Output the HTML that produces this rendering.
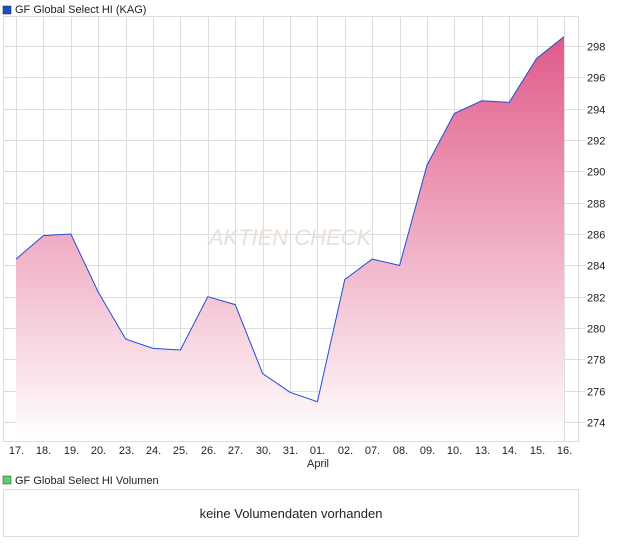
<!DOCTYPE html>
<html><head><meta charset="utf-8"><style>
body{margin:0;background:#fff;font-family:"Liberation Sans",sans-serif;}
svg text{font-family:"Liberation Sans",sans-serif;}
</style></head><body>
<svg id="c" width="620" height="546" xmlns="http://www.w3.org/2000/svg">
<defs><linearGradient id="g" x1="0" y1="0" x2="0" y2="1">
<stop offset="0" stop-color="#e05a8a"/><stop offset="1" stop-color="#ffffff"/></linearGradient></defs>
<rect x="3" y="6" width="8" height="8" fill="#1f4fbf" stroke="#123" stroke-width="0.5"/>
<text x="15" y="13" font-size="11" fill="#222">GF Global Select HI (KAG)</text>
<rect x="3.5" y="16.5" width="575" height="425" fill="#fff" stroke="#ddd"/>
<g id="grid"></g>
<text x="290" y="245" font-size="22" fill="#e8e0d8" font-style="italic" text-anchor="middle">AKTIEN  CHECK</text>
<path id="area" fill="url(#g)"/>
<path id="line" fill="none" stroke="#1f4fd0" stroke-width="1"/>
<g id="ylab"></g><g id="xlab"></g>
<text x="318" y="467" font-size="11" fill="#222" text-anchor="middle">April</text>
<rect x="3" y="476" width="8" height="8" fill="#5fcf6a" stroke="#333" stroke-width="0.5"/>
<text x="15" y="484" font-size="11" fill="#222">GF Global Select HI Volumen</text>
<rect x="3.5" y="489.5" width="575" height="47" fill="#fff" stroke="#ddd"/>
<text x="291" y="518" font-size="13" fill="#222" text-anchor="middle">keine Volumendaten vorhanden</text>
</svg>
<script>
const categories=["17.","18.","19.","20.","23.","24.","25.","26.","27.","30.","31.","01.","02.","07.","08.","09.","10.","13.","14.","15.","16."];
const values=[284.4,285.9,286.0,282.3,279.3,278.7,278.6,282.0,281.5,277.1,275.9,275.3,283.1,284.4,284.0,290.4,293.7,294.5,294.4,297.2,298.6];
const yTicks=[274,276,278,280,282,284,286,288,290,292,294,296,298];
const NS="http://www.w3.org/2000/svg";
const xs=i=>16+i*(564-16)/(categories.length-1);
const ys=v=>46+(298-v)*15.67;
function mk(tag,attrs,parent){const e=document.createElementNS(NS,tag);for(const k in attrs)e.setAttribute(k,attrs[k]);parent.appendChild(e);return e;}
const grid=document.getElementById('grid'),yl=document.getElementById('ylab'),xl=document.getElementById('xlab');
yTicks.forEach(t=>{const y=Math.round(ys(t))+0.5;
 const l=mk('line',{x1:4,x2:585,y1:y,y2:y,stroke:'#ddd'},grid);
 
 
 const tx=mk('text',{x:587,y:y+4,'font-size':11,fill:'#222'},yl);tx.textContent=t;
 
 });
categories.forEach((c,i)=>{const x=Math.round(xs(i))+0.5;
 const l=mk('line',{x1:x,x2:x,y1:17,y2:441,stroke:'#ddd'},grid);
 
 
 const tx=mk('text',{x:x,y:454,'font-size':11,fill:'#222','text-anchor':'middle'},xl);tx.textContent=c;
 
 });
let d=values.map((v,i)=>(i?'L':'M')+xs(i).toFixed(1)+','+ys(v).toFixed(1)).join('');
document.getElementById('line').setAttribute('d',d);
document.getElementById('area').setAttribute('d',d+'L'+xs(values.length-1)+',441L'+xs(0)+',441Z');
</script>
</body></html>
